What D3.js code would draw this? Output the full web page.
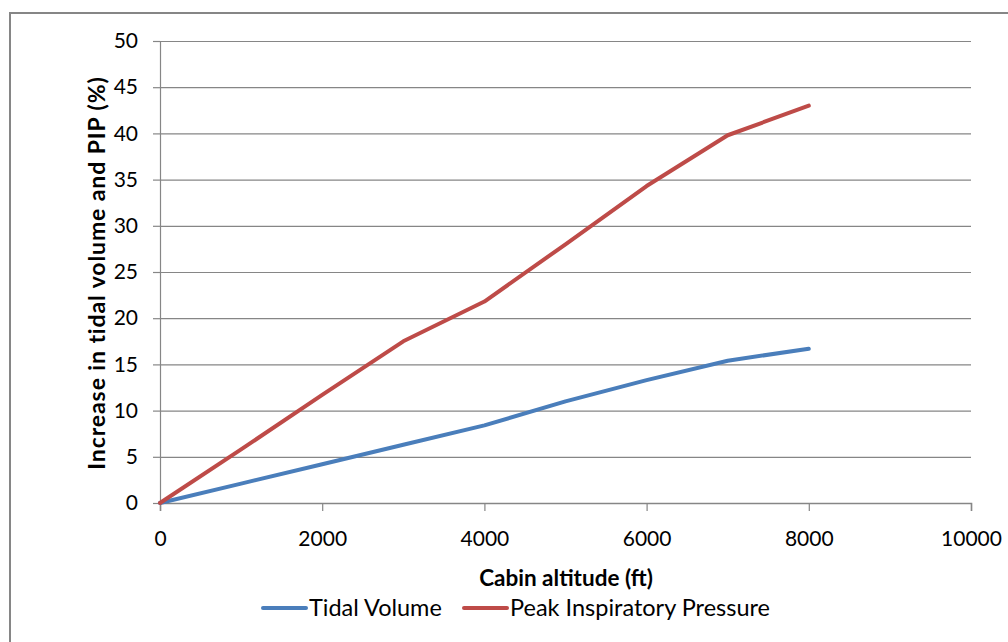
<!DOCTYPE html>
<html>
<head>
<meta charset="utf-8">
<script src="https://cdn.jsdelivr.net/npm/d3@7"></script>
<style>
  html, body { margin: 0; padding: 0; background: #fff; }
  svg { display: block; }
  text { font-family: Lato, "Open Sans", sans-serif; fill: #000; }
</style>
</head>
<body>
<svg id="chart" width="1008" height="642"></svg>
<script>
// Cabin altitude (ft) and percentage increase per series
const altitudes = [0, 1000, 2000, 3000, 4000, 5000, 6000, 7000, 8000];
const tidalVolume = [0, 2.1, 4.2, 6.3, 8.4, 11.0, 13.3, 15.4, 16.7];
const peakInspiratoryPressure = [0, 5.8, 11.7, 17.5, 21.8, 28.0, 34.3, 39.8, 43.0];
const seriesNames = ["Tidal Volume", "Peak Inspiratory Pressure"];
const seriesColors = ["#4A7EBB", "#BE4B48"];
const xTicks = [0, 2000, 4000, 6000, 8000, 10000];
const yTicks = [0, 5, 10, 15, 20, 25, 30, 35, 40, 45, 50];

(function draw() {
  const svg = d3.select("#chart");

  // outer chart frame
  svg.append("path")
    .attr("d", "M10,642 L10,13 L1008,13")
    .attr("fill", "none")
    .attr("stroke", "#868686")
    .attr("stroke-width", 2);

  const plotLeft = 160, plotRight = 971, plotTop = 41, plotBottom = 503;
  const x = d3.scaleLinear().domain([0, 10000]).range([plotLeft, plotRight]);
  const y = d3.scaleLinear().domain([0, 50]).range([plotBottom, plotTop]);

  // horizontal gridlines + y axis
  const yAxis = svg.append("g")
    .attr("transform", `translate(${plotLeft},0)`)
    .call(d3.axisLeft(y).tickValues(yTicks).tickSize(7).tickPadding(15).tickFormat(d3.format("d")));
  yAxis.select(".domain").attr("stroke", "#868686").attr("stroke-width", 1.2);
  yAxis.selectAll(".tick line").attr("stroke", "#868686").attr("stroke-width", 1.2);
  yAxis.selectAll(".tick").append("line")
    .attr("x1", 0).attr("x2", plotRight - plotLeft)
    .attr("stroke", "#868686").attr("stroke-width", 1.2);
  yAxis.selectAll(".tick text")
    .style("font-size", "21px").style("font-family", "Lato, sans-serif").attr("fill", "#000");

  // x axis
  const xAxis = svg.append("g")
    .attr("transform", `translate(0,${plotBottom})`)
    .call(d3.axisBottom(x).tickValues(xTicks).tickSize(8).tickPadding(20).tickFormat(d3.format("d")));
  xAxis.select(".domain").attr("stroke", "#868686").attr("stroke-width", 1.5);
  xAxis.selectAll(".tick line").attr("stroke", "#868686").attr("stroke-width", 1.2);
  xAxis.selectAll(".tick text")
    .style("font-size", "21px").style("font-family", "Lato, sans-serif").attr("fill", "#000");

  // series lines
  const seriesValues = [tidalVolume, peakInspiratoryPressure];
  const line = d3.line().x(d => x(d[0])).y(d => y(d[1]));
  seriesValues.forEach((vals, i) => {
    svg.append("path")
      .datum(altitudes.map((a, j) => [a, vals[j]]))
      .attr("d", line)
      .attr("fill", "none")
      .attr("stroke", seriesColors[i])
      .attr("stroke-width", 4)
      .attr("stroke-linejoin", "round")
      .attr("stroke-linecap", "round");
  });

  // axis titles
  svg.append("text")
    .attr("x", 566).attr("y", 586)
    .attr("text-anchor", "middle")
    .style("font-size", "22.5px").style("font-weight", "bold")
    .text("Cabin altitude (ft)");

  svg.append("text")
    .attr("transform", "translate(105,273) rotate(-90)")
    .attr("text-anchor", "middle")
    .style("font-size", "23px").style("font-weight", "bold")
    .style("letter-spacing", "0.9px")
    .text("Increase in tidal volume and PIP (%)");

  // legend
  const legendItems = [
    { x: 263, name: seriesNames[0], color: seriesColors[0] },
    { x: 464, name: seriesNames[1], color: seriesColors[1] }
  ];
  legendItems.forEach(it => {
    svg.append("line")
      .attr("x1", it.x).attr("x2", it.x + 43)
      .attr("y1", 608).attr("y2", 608)
      .attr("stroke", it.color).attr("stroke-width", 4).attr("stroke-linecap", "round");
    svg.append("text")
      .attr("x", it.x + 46).attr("y", 616)
      .style("font-size", "23.5px")
      .text(it.name);
  });
})();
</script>
</body>
</html>
